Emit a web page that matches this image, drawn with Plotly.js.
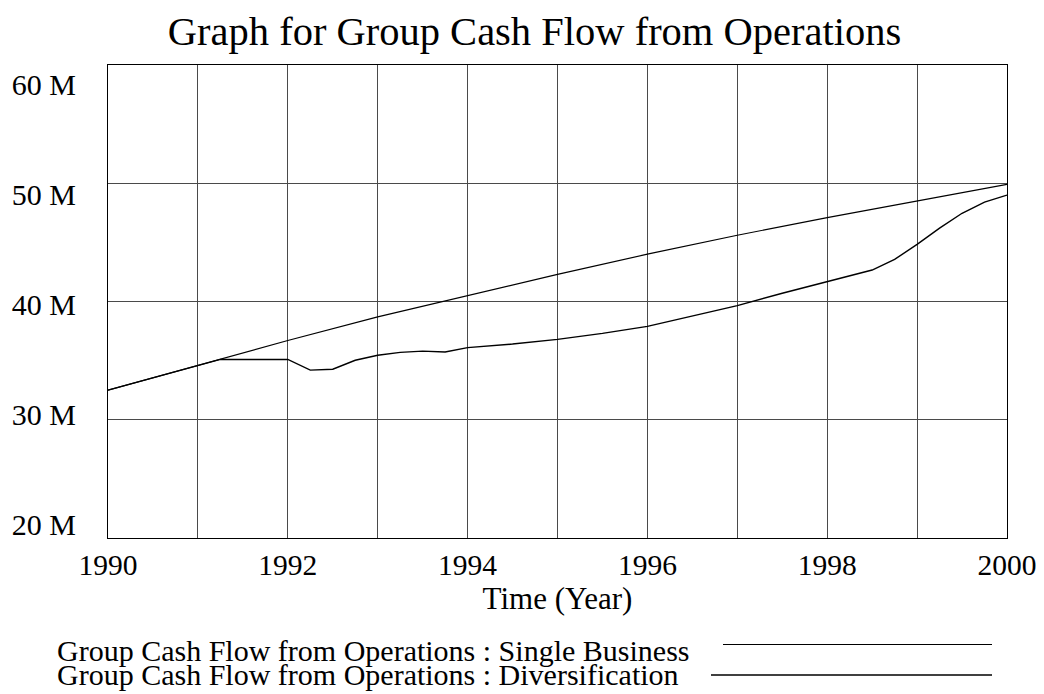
<!DOCTYPE html>
<html>
<head>
<meta charset="utf-8">
<script src="https://cdn.plot.ly/plotly-3.0.1.min.js"></script>
<style>
html,body{margin:0;padding:0;background:#fff;}
#chart{width:1044px;height:694px;}
</style>
</head>
<body>
<div id="chart"></div>
<script>
// ---- data (values in millions) ----
const singleYears = [1990, 1991, 1991.25, 1992, 1993, 1994, 1995, 1996, 1997, 1998, 1999, 2000];
const singleValues = [32.5, 34.6, 35.1, 36.7, 38.7, 40.5, 42.3, 44.0, 45.6, 47.1, 48.5, 49.9];

const diversYears = [1990, 1991, 1991.25, 1992, 1992.25, 1992.5, 1992.75, 1993, 1993.25, 1993.5, 1993.75,
  1994, 1994.5, 1995, 1995.5, 1996, 1996.5, 1997, 1997.5, 1998, 1998.5, 1998.75, 1999, 1999.25, 1999.5, 1999.75, 2000];
const diversValues = [32.5, 34.6, 35.1, 35.1, 34.2, 34.27, 35.03, 35.45, 35.7, 35.8, 35.73,
  36.1, 36.4, 36.8, 37.3, 37.9, 38.8, 39.65, 40.7, 41.65, 42.66, 43.56, 44.83, 46.2, 47.46, 48.4, 49.0];

const yTickVals = [20, 30, 40, 50, 60];
const yTickText = ["20 M", "30 M", "40 M", "50 M", "60 M"];
const xTickVals = [1990, 1992, 1994, 1996, 1998, 2000];
const xTickText = ["1990", "1992", "1994", "1996", "1998", "2000"];

const seriesNames = [
  "Group Cash Flow from Operations : Single Business",
  "Group Cash Flow from Operations : Diversification"
];

// ---- layout geometry ----
const W = 1044, H = 694;
const M = {l: 108, r: 37, t: 65, b: 156};
const plotW = W - M.l - M.r, plotH = H - M.t - M.b;
const px = x => (x - M.l) / plotW;          // pixel -> paper x
const py = y => (H - M.b - y) / plotH;      // pixel -> paper y

const FONT = "Liberation Serif, Times New Roman, serif";
const GRID = "#4a4a4a";

const traces = [
  {x: singleYears, y: singleValues, type: "scatter", mode: "lines",
   line: {color: "#000", width: 1.2}, name: seriesNames[0], hoverinfo: "x+y"},
  {x: diversYears, y: diversValues, type: "scatter", mode: "lines",
   line: {color: "#000", width: 1.4}, name: seriesNames[1], hoverinfo: "x+y"},
  // anchor trace for the label axis (draws nothing)
  {x: [1990], y: [40], type: "scatter", mode: "none", yaxis: "y2",
   showlegend: false, hoverinfo: "skip"}
];

const layout = {
  width: W, height: H,
  margin: M,
  paper_bgcolor: "#fff", plot_bgcolor: "#fff",
  showlegend: false,
  font: {family: FONT, color: "#000", size: 29},
  title: {text: "Graph for Group Cash Flow from Operations",
          font: {family: FONT, size: 40.5, color: "#000"},
          xref: "container", x: 0.512, xanchor: "center",
          yref: "container", y: 0.955, yanchor: "middle"},
  xaxis: {
    range: [1990, 2000], fixedrange: true,
    tickvals: xTickVals, ticktext: xTickText,
    ticks: "", ticklabelstandoff: 1,
    tickfont: {family: FONT, size: 29.5, color: "#000"},
    showgrid: true, gridcolor: GRID, gridwidth: 1,
    minor: {dtick: 1, showgrid: true, gridcolor: GRID, gridwidth: 1},
    showline: true, linecolor: "#000", linewidth: 1, mirror: true,
    zeroline: false,
    title: {text: "Time (Year)", font: {family: FONT, size: 31, color: "#000"}, standoff: 0}
  },
  yaxis: {
    range: [20, 60], fixedrange: true,
    tickvals: yTickVals, showticklabels: false, ticks: "",
    showgrid: true, gridcolor: GRID, gridwidth: 1,
    showline: true, linecolor: "#000", linewidth: 1, mirror: true,
    zeroline: false
  },
  yaxis2: {
    overlaying: "y", side: "left", fixedrange: true,
    range: [18.727, 61.727],
    tickvals: yTickVals, ticktext: yTickText,
    ticks: "", ticklabelstandoff: 31,
    tickfont: {family: FONT, size: 30, color: "#000"},
    showgrid: false, zeroline: false, showline: false
  },
  annotations: [
    {text: seriesNames[0], xref: "paper", yref: "paper", x: px(55), y: py(650),
     xanchor: "left", yanchor: "middle", showarrow: false,
     font: {family: FONT, size: 30, color: "#000"}},
    {text: seriesNames[1], xref: "paper", yref: "paper", x: px(55), y: py(674),
     xanchor: "left", yanchor: "middle", showarrow: false,
     font: {family: FONT, size: 30, color: "#000"}}
  ],
  shapes: [
    {type: "line", xref: "paper", yref: "paper", x0: px(723), x1: px(992), y0: py(644.5), y1: py(644.5),
     line: {color: "#000", width: 1.2}},
    {type: "line", xref: "paper", yref: "paper", x0: px(711), x1: px(992), y0: py(675), y1: py(675),
     line: {color: "#000", width: 1.4}}
  ]
};

Plotly.newPlot("chart", traces, layout, {displayModeBar: false, staticPlot: true});
</script>
</body>
</html>
